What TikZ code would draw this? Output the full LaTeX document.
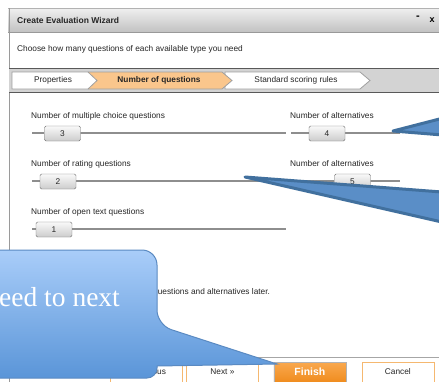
\documentclass[tikz,border=0pt]{standalone}
\usepackage{fontspec}
\setmainfont{Liberation Sans}
\newfontfamily\calloutfont{Liberation Serif}
\definecolor{framegray}{HTML}{9A9A9A}
\definecolor{bargray}{HTML}{D3D3D3}
\definecolor{steporange}{HTML}{FAC68C}
\definecolor{trackgray}{HTML}{8E8E8E}
\definecolor{btnorange}{HTML}{F5B870}
\definecolor{finishlight}{HTML}{F9A84E}
\definecolor{finishdark}{HTML}{EE8614}
\definecolor{calltop}{HTML}{A9CDF9}
\definecolor{callbottom}{HTML}{5A95D8}
\definecolor{callline}{HTML}{5A8AC2}
\definecolor{pointfill}{HTML}{5A8EC7}
\definecolor{pointline}{HTML}{41709E}

\begin{document}
\begin{tikzpicture}[x=1pt,y=-1pt]
            \tikzstyle{every node}=[inner sep=0pt,font=\fontsize{8.3}{10}\selectfont,text=black!85]
            \tikzstyle{uitext}=[anchor=west]
            \tikzstyle{track}=[line width=2pt,trackgray]
            \tikzstyle{thumb}=[draw=gray!90!black,rounded corners=1.5pt,top color=gray!5,bottom color=gray!40,minimum width=36pt,minimum height=15pt,font=\fontsize{8.3}{10}\selectfont]
            \tikzstyle{crumb}=[draw=gray!75,line width=0.8pt]
            \tikzstyle{button}=[draw=btnorange,fill=white,line width=0.8pt,minimum width=72pt,minimum height=24pt,anchor=north west,text depth=6pt]
            \tikzstyle{pointer}=[draw=pointline,fill=pointfill,line width=3pt,line join=round]

            \useasboundingbox (0,0) rectangle (439,381);
            \fill[white] (0,0) rectangle (439,381);

            % window title bar
            \shade[top color=gray!12,bottom color=gray!48] (8,8) rectangle (445,32);
            \draw[gray!60] (8,8) -- (445,8);
            \draw[gray!80] (8,32) -- (445,32);
            \draw[framegray] (9,8) -- (9,390);
            \node[uitext,font=\fontsize{8.5}{10}\bfseries] (title) at (17,20) {Create Evaluation Wizard};
            \node[font=\fontsize{11}{10}\bfseries,text=black] (minbtn) at (418,18) {-};
            \node[font=\fontsize{9}{10}\bfseries,text=black] (closebtn) at (432,20) {x};

            % header
            \node[uitext] (intro) at (17,49) {Choose how many questions of each available type you need};

            % breadcrumb bar
            \fill[bargray] (9,68) rectangle (445,92);
            \draw[gray!70!black] (9,68) -- (445,68);
            \draw[gray!70!black] (9,92) -- (445,92);
            \draw[crumb,fill=white] (225,72) -- (360,72) -- (370,80.5) -- (360,89) -- (225,89) -- cycle;
            \draw[crumb,fill=steporange] (88,72) -- (222,72) -- (232,80.5) -- (222,89) -- (88,89) -- cycle;
            \draw[crumb,fill=white] (12,72) -- (88,72) -- (97,80.5) -- (88,89) -- (12,89) -- cycle;
            \node (props) at (53,80.5) {Properties};
            \node[font=\fontsize{8.3}{10}\bfseries] (numq) at (159,80.5) {Number of questions};
            \node (scoring) at (296,80.5) {Standard scoring rules};

            % sliders
            \node[uitext] (mcq) at (31,116) {Number of multiple choice questions};
            \node[uitext] (mcalt) at (290,116) {Number of alternatives};
            \node[uitext] (ratq) at (31,164) {Number of rating questions};
            \node[uitext] (ratalt) at (290,164) {Number of alternatives};
            \node[uitext] (openq) at (31,212) {Number of open text questions};

            \draw[track] (32,133) -- (286,133);
            \draw[track] (291,133) -- (400,133);
            \draw[track] (32,181) -- (286,181);
            \draw[track] (291,181) -- (400,181);
            \draw[track] (32,229) -- (286,229);

            \node[thumb] (mcthumb) at (62.5,133.5) {3};
            \node[thumb] (mcaltthumb) at (327,133.5) {4};
            \node[thumb] (ratthumb) at (58,181.5) {2};
            \node[thumb] (rataltthumb) at (352.5,181.5) {5};
            \node[thumb] (openthumb) at (54,229.5) {1};

            \node[uitext] (later) at (153,292) {questions and alternatives later.};

            % buttons
            \draw[gray!70] (9,357) -- (445,357);
            \node[button] (prevbtn) at (110,362) {<< Previous};
            \node[button] (nextbtn) at (186,362) {Next >>};
            \node[button,draw=gray!60,top color=finishlight,bottom color=finishdark,text=white,font=\fontsize{10.5}{10}\bfseries] (finishbtn) at (273.5,362) {Finish};
            \node[button] (cancelbtn) at (361.5,362) {Cancel};

            % callouts
            \draw[pointer] (455,115) -- (393,131) -- (455,136) -- cycle;
            \draw[pointer] (455,193) -- (245,177) -- (455,225) -- cycle;
            \draw[draw=callline,line width=1pt,top color=calltop,bottom color=callbottom,rounded corners=15pt]
                (-20,250) -- (157,250) -- (157,325) [sharp corners] -- (277,364) -- (157,366) [rounded corners=10pt] -- (157,378) -- (-20,378);
            \node[anchor=base west,font=\calloutfont\fontsize{27.5}{30}\selectfont,text=white] (hint) at (-1,306.5) {eed to next};
\end{tikzpicture}
\end{document}
